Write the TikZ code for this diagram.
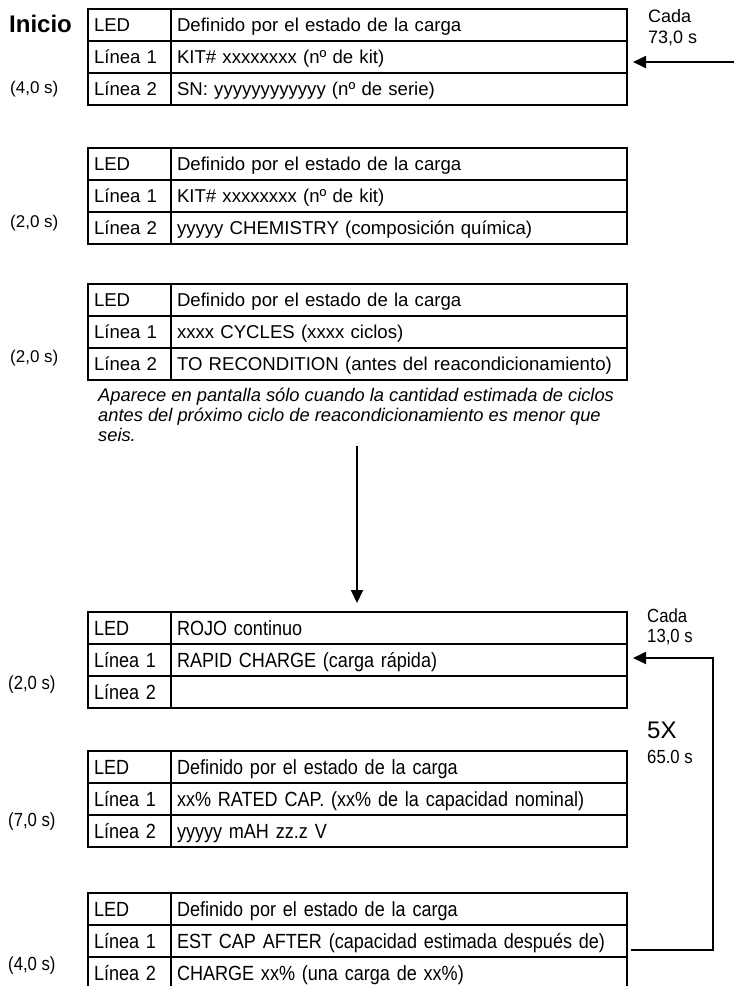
\documentclass[tikz,border=0pt]{standalone}
\usepackage{fontspec}
\setmainfont{Liberation Sans}
\newfontfamily\narrowfont[FakeStretch=0.88]{Liberation Sans}
\usetikzlibrary{arrows.meta}
\tikzset{
 cellbase/.style={draw, line width=1.8pt, outer sep=0pt, inner xsep=6pt, inner ysep=0pt, minimum height=32pt, align=left, text depth=0pt, anchor=north west},
 cellA/.style={cellbase, text width=71pt},
 cellB/.style={cellbase, text width=444pt},
 upper/.style={font=\fontsize{18.6}{22}\selectfont, text height=13.3pt},
 lower/.style={font=\narrowfont\fontsize{20.5}{24}\selectfont, text height=14.7pt},
 lbl/.style={anchor=base west, inner sep=0pt},
 arr/.style={line width=1.8pt, -{Triangle[length=13pt,width=12pt]}},
 notefont/.style={font=\itshape\fontsize{18.3}{20}\selectfont},
}
\newcommand\ledtab[6]{%
 \node[cellA,#3] (#1a1) at (88,#2) {LED};
 \node[cellB,#3] (#1b1) at (#1a1.north east) {#4};
 \node[cellA,#3] (#1a2) at (#1a1.south west) {Línea 1};
 \node[cellB,#3] (#1b2) at (#1a2.north east) {#5};
 \node[cellA,#3] (#1a3) at (#1a2.south west) {Línea 2};
 \node[cellB,#3] (#1b3) at (#1a3.north east) {#6};
}
\begin{document}
\begin{tikzpicture}[x=1pt,y=-1pt]
\useasboundingbox (0,0) rectangle (734,986);
\ledtab{t1}{9}{upper}{Definido por el estado de la carga}{KIT\# xxxxxxxx (nº de kit)}{SN: yyyyyyyyyyyy (nº de serie)}
\ledtab{t2}{148}{upper}{Definido por el estado de la carga}{KIT\# xxxxxxxx (nº de kit)}{yyyyy CHEMISTRY (composición química)}
\ledtab{t3}{284}{upper}{Definido por el estado de la carga}{xxxx CYCLES (xxxx ciclos)}{TO RECONDITION (antes del reacondicionamiento)}
\ledtab{t4}{612}{lower}{ROJO continuo}{RAPID CHARGE (carga rápida)}{}
\ledtab{t5}{751}{lower}{Definido por el estado de la carga}{xx\% RATED CAP. (xx\% de la capacidad nominal)}{yyyyy mAH zz.z V}
\ledtab{t6}{893}{lower}{Definido por el estado de la carga}{EST CAP AFTER (capacidad estimada después de)}{CHARGE xx\% (una carga de xx\%)}

\node[lbl, font=\bfseries\fontsize{24}{28}\selectfont] (inicio) at (9,32) {Inicio};
\node[lbl, font=\fontsize{17}{20}\selectfont] (d1) at (10,93) {(4,0 s)};
\node[lbl, font=\fontsize{17}{20}\selectfont] (d2) at (10,227) {(2,0 s)};
\node[lbl, font=\fontsize{17}{20}\selectfont] (d3) at (10,362) {(2,0 s)};
\node[lbl, font=\narrowfont\fontsize{19}{22}\selectfont] (d4) at (8,689) {(2,0 s)};
\node[lbl, font=\narrowfont\fontsize{19}{22}\selectfont] (d5) at (8,826) {(7,0 s)};
\node[lbl, font=\narrowfont\fontsize{19}{22}\selectfont] (d6) at (8,970) {(4,0 s)};

\node[lbl, font=\fontsize{18}{20}\selectfont] (cada1) at (648,22) {Cada};
\node[lbl, font=\fontsize{18}{20}\selectfont] (per1) at (648,43) {73,0 s};
\node[lbl, font=\narrowfont\fontsize{19}{22}\selectfont] (cada2) at (647,622) {Cada};
\node[lbl, font=\narrowfont\fontsize{19}{22}\selectfont] (per2) at (647,642) {13,0 s};
\node[lbl, font=\fontsize{24}{28}\selectfont] (fivex) at (647,738) {5X};
\node[lbl, font=\narrowfont\fontsize{19}{22}\selectfont] (per3) at (647,763) {65.0 s};

\node[lbl, notefont] (note1) at (98,401) {Aparece en pantalla sólo cuando la cantidad estimada de ciclos};
\node[lbl, notefont] (note2) at (98,421) {antes del próximo ciclo de reacondicionamiento es menor que};
\node[lbl, notefont] (note3) at (98,441) {seis.};

\coordinate (in1) at (734,62);
\draw[arr] (in1) -- ([xshift=6pt,yshift=-5pt]t1b2.east);

\coordinate (vtop) at (357,446);
\draw[arr, shorten >=9pt] (vtop) -- (vtop |- t4b1.north);

\coordinate (lp) at ([xshift=4pt,yshift=7pt]t6b2.south east);
\draw[arr] (lp) -- ++(82,0) |- ([xshift=6pt,yshift=2pt]t4b2.east);
\end{tikzpicture}
\end{document}
